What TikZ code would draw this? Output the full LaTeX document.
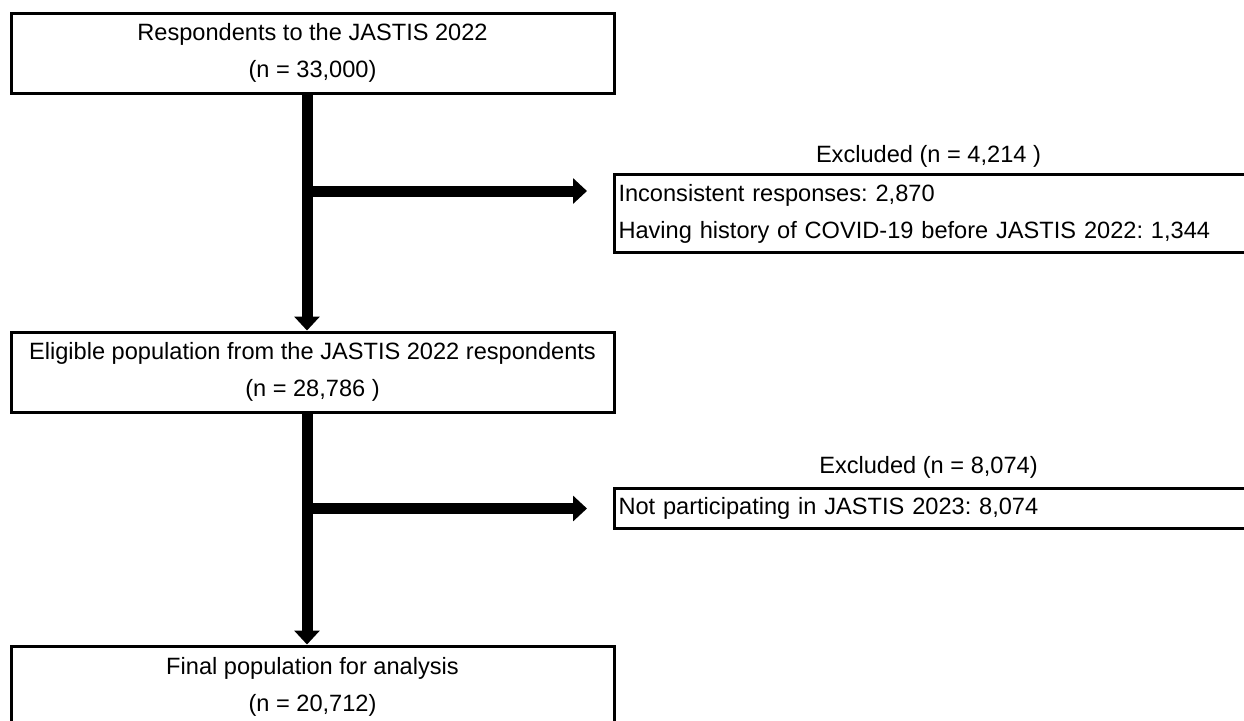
\documentclass[tikz,border=0pt]{standalone}
\usepackage{fontspec}
\setmainfont{Liberation Sans}
\usetikzlibrary{arrows.meta,positioning,calc}

\begin{document}
\frenchspacing
\begin{tikzpicture}[
    x=0.5pt, y=-0.5pt,
    font=\fontsize{11.8}{18.5}\selectfont,
    stagebox/.style={rectangle, draw=black, line width=1.5pt, align=center, minimum width=301.5pt, minimum height=40pt, inner sep=0pt},
    exclbox/.style={rectangle, draw=black, line width=1.5pt, align=left, text width=320pt, inner xsep=2pt, inner ysep=0pt, anchor=north west},
    exclhead/.style={inner sep=0pt},
    flow/.style={line width=5.5pt, -{Triangle[width=12.5pt,length=7pt]}}
]
\useasboundingbox (0,0) rectangle (1244,720);

% Main stages
\node[stagebox] (respond) at (312.5,53) {Respondents to the JASTIS 2022\\(n = 33,000)};
\node[stagebox, below=118pt of respond] (eligible) {Eligible population from the JASTIS 2022 respondents\\(n = 28,786 )};
\node[stagebox, below=115.5pt of eligible, minimum height=41pt] (final) {Final population for analysis\\(n = 20,712)};

% Exclusions
\node[exclbox, minimum height=39pt] (excl1) at (613,173) {Inconsistent responses: 2,870\\Having history of COVID-19 before JASTIS 2022: 1,344};
\node[exclhead] (excl1_head) at (928.5,156) {Excluded (n = 4,214 )};
\node[exclbox, minimum height=20pt] (excl2) at (613,487) {Not participating in JASTIS 2023: 8,074};
\node[exclhead] (excl2_head) at (928.5,467) {Excluded (n = 8,074)};

% Connections
\coordinate (spine) at (307,0);
\coordinate (fork1) at (307,191);
\draw[flow] (respond.south -| spine) -- (eligible.north -| spine);
\draw[flow, shorten >=13pt] (fork1) -- (fork1 -| excl1.west);
\draw[flow] (eligible.south -| spine) -- (final.north -| spine);
\draw[flow, shorten >=13pt] (spine |- excl2.west) -- (excl2.west);

\end{tikzpicture}
\end{document}
